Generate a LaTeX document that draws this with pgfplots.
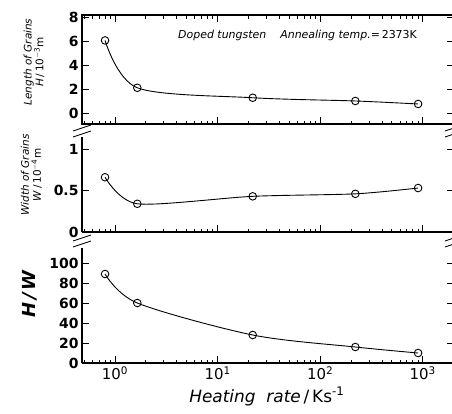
\documentclass[border=0pt]{standalone}
\usepackage{pgfplots}
\pgfplotsset{compat=1.18}
\usepackage{fontspec}
\setmainfont{DejaVu Sans}

\begin{document}
\begin{tikzpicture}
\useasboundingbox (0,0) rectangle (452bp,-414bp);

% length of grains
\begin{axis}[at={(82bp,-15bp)}, anchor=north west,
    scale only axis, width=372bp, height=109bp,
    xmode=log, xmin=0.477, xmax=2014,
    ymin=-0.92, ymax=8.17,
    axis line style={line width=1.1pt},
    tick style={black, line width=0.9pt},
    major tick length=7bp, minor tick length=3.5bp,
    tick align=inside,
    xtick={1,10,100,1000},
    minor xtick={0.5,0.6,0.7,0.8,0.9,2,3,4,5,6,7,8,9,20,30,40,50,60,70,80,90,200,300,400,500,600,700,800,900,2000},
    xticklabels={},
    ytick={0,2,4,6,8}, yticklabels={0,2,4,6,8},
    yticklabel style={font=\fontsize{14}{16}\selectfont\bfseries},
    ylabel style={at={(axis description cs:-0.129,0.569)}, anchor=center, align=center},
    ylabel={\fontsize{10.5}{16}\selectfont\itshape Length of Grains\\
      \fontsize{10.5}{16}\selectfont\textit{H}\,/\,10\textsuperscript{$-$3}m}]
\addplot[black, line width=0.9pt, smooth, mark=o, mark size=3.8bp,
    mark options={fill=white, solid, line width=0.9pt}]
  coordinates {(0.8,6.05) (1.65,2.1) (22,1.27) (220,1.0) (900,0.75)};
\end{axis}

% width of grains
\begin{axis}[at={(82bp,-137bp)}, anchor=north west,
    scale only axis, width=372bp, height=95bp,
    xmode=log, xmin=0.477, xmax=2014,
    ymin=0, ymax=1.145,
    axis x line*=bottom, axis y line*=box,
    axis line style={line width=1.1pt},
    tick style={black, line width=0.9pt},
    major tick length=7bp, minor tick length=3.5bp,
    tick align=inside,
    xtick={1,10,100,1000},
    minor xtick={0.5,0.6,0.7,0.8,0.9,2,3,4,5,6,7,8,9,20,30,40,50,60,70,80,90,200,300,400,500,600,700,800,900,2000},
    xticklabels={},
    ytick={0,0.5,1}, yticklabels={0,0.5,1},
    yticklabel style={font=\fontsize{14}{16}\selectfont\bfseries},
    ylabel style={at={(axis description cs:-0.136,0.6)}, anchor=center, align=center},
    ylabel={\fontsize{10.5}{13}\selectfont\itshape Width of Grains\\
      \fontsize{10.5}{13}\selectfont\textit{W}\,/\,10\textsuperscript{$-$4}m}]
\addplot[black, line width=0.9pt, smooth, tension=0.45, mark=o, mark size=3.8bp,
    mark options={fill=white, solid, line width=0.9pt}]
  coordinates {(0.8,0.66) (1.65,0.34) (22,0.43) (220,0.46) (900,0.53)};
\end{axis}

% ratio
\begin{axis}[at={(82bp,-248bp)}, anchor=north west,
    scale only axis, width=372bp, height=115bp,
    xmode=log, xmin=0.477, xmax=2014,
    ymin=0, ymax=115,
    axis x line*=bottom, axis y line*=box,
    axis line style={line width=1.1pt},
    tick style={black, line width=0.9pt},
    major tick length=7bp, minor tick length=3.5bp,
    tick align=inside,
    xtick={1,10,100,1000},
    minor xtick={0.5,0.6,0.7,0.8,0.9,2,3,4,5,6,7,8,9,20,30,40,50,60,70,80,90,200,300,400,500,600,700,800,900,2000},
    xticklabels={10\textsuperscript{0},10\textsuperscript{1},10\textsuperscript{2},10\textsuperscript{3}},
    xticklabel style={font=\fontsize{15}{17}\selectfont},
    ytick={0,20,40,60,80,100}, yticklabels={0,20,40,60,80,100},
    yticklabel style={font=\fontsize{14}{16}\selectfont\bfseries},
    ylabel style={at={(axis description cs:-0.14,0.6)}, anchor=center},
    ylabel={\fontsize{18}{20}\selectfont\bfseries\itshape H\,/\,W},
    xlabel style={at={(axis description cs:0.497,0)}, anchor=base, yshift=-39bp},
    xlabel={\fontsize{17}{19}\selectfont\textit{Heating\ \ rate}\,/\,Ks\textsuperscript{-1}}]
\addplot[black, line width=0.9pt, smooth, mark=o, mark size=3.8bp,
    mark options={fill=white, solid, line width=0.9pt}]
  coordinates {(0.8,89) (1.65,60) (22,28) (220,16) (900,10)};
\end{axis}

\node[anchor=base west, font=\fontsize{11}{13}\selectfont, inner sep=0pt] at (178bp,-38bp)
  {\textit{Doped tungsten}\hspace{14bp}\textit{Annealing temp.=}\,2373K};

% axis break marks
\foreach \xx in {82,454}{
  \foreach \yy in {128,134,238,244}{
    \draw[line width=0.9pt] (\xx bp-9bp,-\yy bp-3bp) -- (\xx bp+9bp,-\yy bp+3bp);
  }
}
\end{tikzpicture}
\end{document}
